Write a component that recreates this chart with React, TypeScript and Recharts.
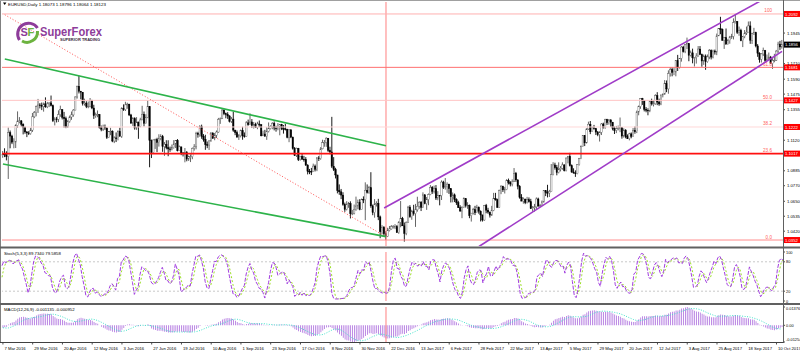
import React from 'react';
import { ComposedChart, Bar, Line, XAxis, YAxis, ReferenceLine } from 'recharts';

// ---------- DATA ----------
// warm-up bars (22 Feb - 4 Mar 2016), used only to prime the indicators
const warmHighs = [1.1120,1.1050,1.1040,1.1045,1.1070,1.0955,1.0915,1.0883,1.0965,1.1043];
const warmLows = [1.1000,1.0990,1.0958,1.0990,1.0915,1.0858,1.0862,1.0829,1.0859,1.0926];
const warmCloses = [1.1026,1.1017,1.1016,1.1023,1.0932,1.0872,1.0868,1.0866,1.0955,1.1002];
const firstOpen = 1.1020;

// daily bars 7 Mar 2016 .. 13 Oct 2017 (one row per week)
const highs = [
1.1037,1.1058,1.1035,1.1218,1.1195, 1.1162,1.1135,1.1243,1.1342,1.1298, 1.1275,1.1250,1.1225,1.1190,1.1190,
1.1216,1.1330,1.1345,1.1387,1.1438, 1.1406,1.1410,1.1410,1.1450,1.1415, 1.1410,1.1464,1.1395,1.1297,1.1300,
1.1350,1.1386,1.1354,1.1338,1.1302, 1.1275,1.1310,1.1341,1.1360,1.1458, 1.1540,1.1616,1.1500,1.1491,1.1440,
1.1420,1.1418,1.1445,1.1431,1.1393, 1.1333,1.1349,1.1322,1.1233,1.1240, 1.1241,1.1218,1.1188,1.1216,1.1196,
1.1150,1.1180,1.1196,1.1216,1.1374, 1.1396,1.1416,1.1409,1.1400,1.1323, 1.1298,1.1297,1.1298,1.1263,1.1293,
1.1385,1.1341,1.1320,1.1428,1.1380, 1.1125,1.1126,1.1132,1.1139,1.1166, 1.1166,1.1161,1.1106,1.1120,1.1120,
1.1071,1.1087,1.1121,1.1120,1.1129, 1.1079,1.1070,1.1029,1.1060,1.1037, 1.1002,1.1011,1.1064,1.1090,1.1185,
1.1185,1.1236,1.1240,1.1167,1.1162, 1.1110,1.1119,1.1183,1.1182,1.1176, 1.1195,1.1292,1.1295,1.1366,1.1358,
1.1333,1.1336,1.1312,1.1299,1.1340, 1.1200,1.1195,1.1168,1.1202,1.1224, 1.1180,1.1267,1.1279,1.1327,1.1283,
1.1260,1.1255,1.1262,1.1272,1.1244, 1.1194,1.1200,1.1220,1.1257,1.1235, 1.1259,1.1265,1.1231,1.1252,1.1245,
1.1246,1.1237,1.1247,1.1208,1.1205, 1.1205,1.1148,1.1068,1.1063,1.1061, 1.1000,1.1022,1.1000,1.0990,1.0935,
1.0899,1.0907,1.0940,1.0933,1.0990, 1.0999,1.1067,1.1124,1.1122,1.1143, 1.1100,1.1070,1.1300,1.0990,1.0908,
1.0820,1.0780,1.0745,1.0720,1.0640, 1.0651,1.0645,1.0650,1.0584,1.0625, 1.0686,1.0663,1.0666,1.0671,1.0688,
1.0796,1.0780,1.0769,1.0874,1.0625, 1.0667,1.0650,1.0669,1.0540,1.0466, 1.0459,1.0420,1.0446,1.0460,1.0467,
1.0467,1.0474,1.0467,1.0497,1.0652, 1.0530,1.0487,1.0495,1.0615,1.0620, 1.0585,1.0623,1.0630,1.0685,1.0651,
1.0652,1.0719,1.0705,1.0683,1.0710, 1.0775,1.0767,1.0771,1.0775,1.0728, 1.0699,1.0811,1.0808,1.0829,1.0796,
1.0785,1.0752,1.0718,1.0710,1.0673, 1.0654,1.0620,1.0612,1.0680,1.0675, 1.0643,1.0625,1.0560,1.0600,1.0615,
1.0623,1.0610,1.0580,1.0547,1.0622, 1.0630,1.0600,1.0571,1.0615,1.0715, 1.0715,1.0670,1.0740,1.0775,1.0770,
1.0761,1.0820,1.0825,1.0805,1.0819, 1.0906,1.0876,1.0818,1.0775,1.0705, 1.0680,1.0670,1.0684,1.0680,1.0669,
1.0614,1.0630,1.0680,1.0678,1.0630, 1.0656,1.0737,1.0737,1.0777,1.0738, 1.0937,1.0951,1.0947,1.0930,1.0950,
1.0921,1.0950,1.0935,1.0987,1.0999, 1.1023,1.0934,1.0904,1.0888,1.0935, 1.0984,1.1080,1.1160,1.1160,1.1212,
1.1263,1.1268,1.1225,1.1238,1.1215, 1.1191,1.1189,1.1252,1.1255,1.1285, 1.1285,1.1283,1.1280,1.1261,1.1225,
1.1230,1.1233,1.1295,1.1218,1.1212, 1.1205,1.1165,1.1177,1.1180,1.1214, 1.1226,1.1348,1.1387,1.1445,1.1446,
1.1423,1.1375,1.1366,1.1424,1.1440, 1.1430,1.1474,1.1490,1.1440,1.1470, 1.1480,1.1583,1.1580,1.1658,1.1683,
1.1680,1.1675,1.1735,1.1777,1.1750, 1.1845,1.1847,1.1860,1.1910,1.1869, 1.1810,1.1825,1.1760,1.1790,1.1845,
1.1845,1.1787,1.1780,1.1780,1.1780, 1.1822,1.1819,1.1817,1.1818,1.1941, 1.1980,1.2070,1.1980,1.1915,1.1980,
1.1900,1.1923,1.1939,1.2058,1.2092, 1.2035,1.1995,1.1978,1.1920,1.1968, 1.1995,1.2034,1.2035,1.1947,1.1985,
1.1955,1.1860,1.1797,1.1790,1.1833, 1.1815,1.1780,1.1795,1.1769,1.1752, 1.1785,1.1815,1.1878,1.1885,1.1892,
];
const lows = [
1.0985,1.0990,1.0965,1.0822,1.1058, 1.1090,1.1058,1.1060,1.1215,1.1250, 1.1225,1.1165,1.1170,1.1144,1.1160,
1.1163,1.1184,1.1290,1.1304,1.1330, 1.1365,1.1352,1.1340,1.1370,1.1367, 1.1375,1.1380,1.1260,1.1234,1.1257,
1.1260,1.1300,1.1280,1.1217,1.1213, 1.1215,1.1255,1.1277,1.1301,1.1351, 1.1440,1.1480,1.1435,1.1387,1.1387,
1.1367,1.1366,1.1373,1.1359,1.1284, 1.1293,1.1297,1.1210,1.1189,1.1191, 1.1200,1.1130,1.1137,1.1159,1.1105,
1.1098,1.1106,1.1119,1.1148,1.1138, 1.1346,1.1345,1.1362,1.1306,1.1246, 1.1230,1.1201,1.1200,1.1131,1.1220,
1.1294,1.1226,1.1250,1.1290,1.0912, 1.0983,1.1028,1.1053,1.1028,1.1071, 1.1120,1.1031,1.1000,1.1050,1.0997,
1.1031,1.1042,1.1055,1.1060,1.1034, 1.1040,1.1005,1.0995,1.0950,1.0958, 1.0961,1.0952,1.0974,1.1040,1.1050,
1.1140,1.1147,1.1131,1.1109,1.1046, 1.1059,1.1045,1.1108,1.1130,1.1120, 1.1137,1.1178,1.1246,1.1283,1.1313,
1.1289,1.1284,1.1257,1.1253,1.1185, 1.1159,1.1138,1.1122,1.1142,1.1124, 1.1140,1.1147,1.1232,1.1238,1.1214,
1.1210,1.1216,1.1205,1.1220,1.1150, 1.1154,1.1150,1.1123,1.1180,1.1203, 1.1205,1.1196,1.1186,1.1197,1.1158,
1.1198,1.1171,1.1195,1.1135,1.1105, 1.1136,1.1048,1.0999,1.0991,1.0960, 1.0963,1.0970,1.0955,1.0922,1.0857,
1.0859,1.0852,1.0877,1.0880,1.0882, 1.0960,1.0970,1.1050,1.1070,1.1069, 1.1030,1.1012,1.0906,1.0883,1.0826,
1.0711,1.0700,1.0667,1.0616,1.0569, 1.0580,1.0600,1.0518,1.0543,1.0549, 1.0577,1.0588,1.0581,1.0600,1.0636,
1.0505,1.0710,1.0708,1.0600,1.0543, 1.0524,1.0610,1.0505,1.0366,1.0395, 1.0385,1.0352,1.0375,1.0418,1.0432,
1.0440,1.0436,1.0406,1.0400,1.0450, 1.0460,1.0340,1.0389,1.0484,1.0523, 1.0508,1.0540,1.0453,1.0570,1.0592,
1.0575,1.0600,1.0627,1.0584,1.0620, 1.0697,1.0707,1.0710,1.0660,1.0658, 1.0619,1.0660,1.0745,1.0740,1.0715,
1.0707,1.0641,1.0642,1.0644,1.0622, 1.0599,1.0570,1.0520,1.0598,1.0602, 1.0592,1.0520,1.0494,1.0548,1.0544,
1.0567,1.0555,1.0495,1.0494,1.0500, 1.0558,1.0554,1.0525,1.0537,1.0574, 1.0655,1.0600,1.0600,1.0705,1.0722,
1.0710,1.0736,1.0780,1.0765,1.0765, 1.0815,1.0800,1.0742,1.0670,1.0650, 1.0632,1.0628,1.0633,1.0640,1.0591,
1.0570,1.0571,1.0590,1.0608,1.0605, 1.0617,1.0640,1.0690,1.0680,1.0683, 1.0821,1.0850,1.0894,1.0850,1.0865,
1.0880,1.0893,1.0880,1.0880,1.0942, 1.0918,1.0870,1.0863,1.0838,1.0858, 1.0925,1.0975,1.1069,1.1075,1.1095,
1.1200,1.1167,1.1185,1.1201,1.1160, 1.1151,1.1110,1.1160,1.1210,1.1208, 1.1238,1.1240,1.1223,1.1196,1.1168,
1.1175,1.1196,1.1182,1.1132,1.1140, 1.1135,1.1130,1.1119,1.1135,1.1150, 1.1170,1.1175,1.1312,1.1362,1.1392,
1.1342,1.1335,1.1312,1.1336,1.1387, 1.1380,1.1393,1.1390,1.1385,1.1390, 1.1450,1.1470,1.1490,1.1478,1.1610,
1.1612,1.1621,1.1612,1.1653,1.1672, 1.1725,1.1795,1.1790,1.1822,1.1728, 1.1765,1.1712,1.1688,1.1710,1.1764,
1.1778,1.1686,1.1700,1.1662,1.1717, 1.1744,1.1742,1.1750,1.1779,1.1775, 1.1922,1.1936,1.1885,1.1823,1.1859,
1.1860,1.1863,1.1900,1.1896,1.2019, 1.1938,1.1924,1.1882,1.1837,1.1905, 1.1930,1.1952,1.1862,1.1861,1.1930,
1.1835,1.1762,1.1717,1.1718,1.1768, 1.1716,1.1730,1.1738,1.1708,1.1669, 1.1720,1.1730,1.1790,1.1815,1.1825,
];
const closes = [
1.1013,1.1008,1.0995,1.1178,1.1152, 1.1105,1.1106,1.1232,1.1268,1.1269, 1.1243,1.1220,1.1184,1.1176,1.1170,
1.1198,1.1300,1.1333,1.1379,1.1392, 1.1390,1.1380,1.1400,1.1377,1.1400, 1.1408,1.1387,1.1270,1.1284,1.1282,
1.1317,1.1357,1.1296,1.1286,1.1222, 1.1264,1.1299,1.1315,1.1352,1.1453, 1.1536,1.1497,1.1490,1.1401,1.1406,
1.1382,1.1382,1.1428,1.1368,1.1309, 1.1315,1.1318,1.1218,1.1205,1.1223, 1.1215,1.1141,1.1188,1.1190,1.1114,
1.1138,1.1132,1.1189,1.1151,1.1366, 1.1355,1.1392,1.1398,1.1315,1.1252, 1.1287,1.1214,1.1260,1.1225,1.1276,
1.1320,1.1250,1.1296,1.1380,1.1118, 1.1027,1.1122,1.1125,1.1103,1.1135, 1.1148,1.1071,1.1089,1.1063,1.1053,
1.1052,1.1062,1.1091,1.1119,1.1039, 1.1069,1.1022,1.1017,1.1025,1.0975, 1.0993,1.0993,1.1057,1.1069,1.1174,
1.1164,1.1224,1.1151,1.1128,1.1086, 1.1083,1.1115,1.1175,1.1136,1.1159, 1.1183,1.1280,1.1285,1.1352,1.1324,
1.1318,1.1307,1.1267,1.1283,1.1198, 1.1179,1.1145,1.1155,1.1196,1.1154, 1.1150,1.1254,1.1240,1.1261,1.1234,
1.1242,1.1218,1.1245,1.1239,1.1154, 1.1168,1.1150,1.1188,1.1209,1.1225, 1.1250,1.1214,1.1212,1.1223,1.1240,
1.1210,1.1208,1.1205,1.1143,1.1200, 1.1144,1.1057,1.1003,1.1058,1.0972, 1.0997,1.0974,1.0973,1.0929,1.0881,
1.0880,1.0878,1.0921,1.0897,1.0984, 1.0979,1.1054,1.1101,1.1104,1.1136, 1.1042,1.1030,1.0920,1.0895,1.0853,
1.0734,1.0723,1.0698,1.0626,1.0588, 1.0627,1.0632,1.0555,1.0558,1.0589, 1.0614,1.0643,1.0587,1.0665,1.0662,
1.0735,1.0719,1.0755,1.0615,1.0563, 1.0630,1.0634,1.0530,1.0416,1.0450, 1.0400,1.0380,1.0425,1.0437,1.0455,
1.0455,1.0456,1.0410,1.0488,1.0517, 1.0461,1.0403,1.0488,1.0605,1.0531, 1.0575,1.0555,1.0584,1.0612,1.0643,
1.0603,1.0700,1.0632,1.0663,1.0702, 1.0757,1.0727,1.0748,1.0675,1.0696, 1.0693,1.0798,1.0759,1.0763,1.0782,
1.0747,1.0685,1.0700,1.0663,1.0640, 1.0601,1.0575,1.0602,1.0670,1.0616, 1.0618,1.0540,1.0559,1.0586,1.0562,
1.0605,1.0574,1.0545,1.0506,1.0617, 1.0582,1.0567,1.0544,1.0580,1.0671, 1.0662,1.0603,1.0733,1.0765,1.0738,
1.0740,1.0811,1.0796,1.0783,1.0800, 1.0866,1.0815,1.0766,1.0680,1.0652, 1.0667,1.0640,1.0662,1.0647,1.0593,
1.0600,1.0607,1.0668,1.0614,1.0616, 1.0645,1.0731,1.0718,1.0714,1.0726, 1.0855,1.0930,1.0908,1.0872,1.0895,
1.0905,1.0930,1.0886,1.0983,1.0997, 1.0924,1.0875,1.0868,1.0862,1.0932, 1.0980,1.1070,1.1157,1.1100,1.1207,
1.1243,1.1185,1.1215,1.1210,1.1183, 1.1163,1.1181,1.1245,1.1217,1.1280, 1.1255,1.1277,1.1259,1.1211,1.1196,
1.1208,1.1215,1.1218,1.1152,1.1198, 1.1147,1.1132,1.1169,1.1150,1.1196, 1.1185,1.1337,1.1379,1.1441,1.1425,
1.1358,1.1351,1.1346,1.1422,1.1400, 1.1400,1.1464,1.1414,1.1399,1.1469, 1.1475,1.1557,1.1515,1.1633,1.1664,
1.1643,1.1645,1.1732,1.1679,1.1750, 1.1837,1.1803,1.1859,1.1864,1.1774, 1.1793,1.1754,1.1756,1.1768,1.1822,
1.1779,1.1730,1.1768,1.1724,1.1761, 1.1811,1.1760,1.1807,1.1799,1.1923, 1.1978,1.1974,1.1890,1.1910,1.1859,
1.1886,1.1915,1.1919,1.2025,1.2035, 1.1951,1.1966,1.1886,1.1918,1.1944, 1.1952,1.2000,1.1890,1.1940,1.1950,
1.1846,1.1790,1.1743,1.1784,1.1811, 1.1735,1.1744,1.1760,1.1710,1.1734, 1.1736,1.1806,1.1860,1.1838,1.1856,
];

const dateLabels = [
  '7 Mar 2016', '29 Mar 2016', '20 Apr 2016', '12 May 2016', '3 Jun 2016', '27 Jun 2016', '19 Jul 2016',
  '10 Aug 2016', '1 Sep 2016', '23 Sep 2016', '17 Oct 2016', '8 Nov 2016', '30 Nov 2016', '22 Dec 2016',
  '13 Jan 2017', '6 Feb 2017', '28 Feb 2017', '22 Mar 2017', '13 Apr 2017', '5 May 2017', '29 May 2017',
  '20 Jun 2017', '12 Jul 2017', '3 Aug 2017', '25 Aug 2017', '18 Sep 2017', '10 Oct 2017',
];
const labelEvery = 16;

const priceTicks = [1.0420, 1.0535, 1.0650, 1.0770, 1.0885, 1.1120, 1.1355,
  1.1475, 1.1590, 1.1710, 1.1945];
const priceDomain = [1.0306, 1.2184];

const fibPrices = [1.2092, 1.1681, 1.1427, 1.1222, 1.1017, 1.0352];
const fibNames = ['100', '61.8', '50.0', '38.2', '23.6', '0.0'];

const markerBar = 206;
const greenUpper = [[1, 1.1746], [206, 1.1078]];
const greenLower = [[0, 1.0937], [206, 1.0378]];
const fibDiagonal = [[1, 1.2086], [205, 1.0385]];
const purpleUpper = [[205, 1.0598], [419, 1.2284]];
const purpleLower = [[256, 1.0302], [419, 1.1804]];

const headerText = 'EURUSD,Daily  1.18073 1.18796 1.18064 1.18123';
const stochText = 'Stoch(5,3,3) 89.7340 79.5858';
const macdText = 'MACD(12,26,9) -0.001135 -0.000952';

// ---------- TABLE ----------
function buildRows() {
  const H = [...warmHighs, ...highs];
  const L = [...warmLows, ...lows];
  const C = [...warmCloses, ...closes];
  const n = C.length;
  const O = C.map((c, k) => (k === 0 ? firstOpen : C[k - 1]));
  const hh = H.map((h, k) => Math.max(h, O[k], C[k]));
  const ll = L.map((l, k) => Math.min(l, O[k], C[k]));
  const num: number[] = [];
  const den: number[] = [];
  for (let k = 0; k < n; k++) {
    const s = Math.max(0, k - 4);
    let lo = Infinity, hi = -Infinity;
    for (let j = s; j <= k; j++) { lo = Math.min(lo, ll[j]); hi = Math.max(hi, hh[j]); }
    num.push(C[k] - lo);
    den.push(hi - lo);
  }
  const K: (number | null)[] = [];
  for (let k = 0; k < n; k++) {
    if (k < 6) { K.push(null); continue; }
    const a = num[k] + num[k - 1] + num[k - 2];
    const b = den[k] + den[k - 1] + den[k - 2];
    K.push(b === 0 ? 100 : (100 * a) / b);
  }
  const D: (number | null)[] = K.map((v, k) => (k < 8 ? null : ((K[k] as number) + (K[k - 1] as number) + (K[k - 2] as number)) / 3));
  let e12 = C[0], e26 = C[0];
  const macd: number[] = [];
  for (let k = 0; k < n; k++) {
    e12 = e12 + (2 / 13) * (C[k] - e12);
    e26 = e26 + (2 / 27) * (C[k] - e26);
    macd.push(e12 - e26);
  }
  const sig = macd.map((v, k) => {
    const s = Math.max(0, k - 8);
    let t = 0;
    for (let j = s; j <= k; j++) t += macd[j];
    return t / (k - s + 1);
  });
  const w = warmCloses.length;
  const rows: any[] = [];
  for (let k = w; k < n; k++) {
    rows.push({ i: k - w, o: O[k], h: hh[k], l: ll[k], c: C[k], k: K[k], d: D[k], macd: macd[k], sig: sig[k] });
  }
  return rows;
}
const rows = buildRows();
const lastClose = rows[rows.length - 1].c;
const macdMax = Math.max(...rows.map((r) => Math.max(r.macd, r.sig)));
const macdMin = Math.min(...rows.map((r) => Math.min(r.macd, r.sig)));
const timeTicks = dateLabels.map((_, k) => k * labelEvery);

// ---------- RENDERERS ----------
const FONT = 'Liberation Sans, Arial, sans-serif';
const AXIS_W = 17;
const MARGIN_L = 2;

const Candle = (props: any) => {
  const { x, y, width, height, payload } = props;
  if (!payload || !isFinite(y) || !isFinite(height)) return null;
  const cx = x + width / 2;
  const { o, h, l, c } = payload;
  const range = h - l || 1e-9;
  const yOf = (v: number) => y + ((h - v) / range) * height;
  const top = yOf(Math.max(o, c));
  const bot = yOf(Math.min(o, c));
  const up = c >= o;
  return (
    <g>
      <line x1={cx} x2={cx} y1={y} y2={y + height} stroke={up ? '#555' : '#000'} strokeWidth={0.9} />
      <rect x={cx - 0.75} y={top} width={1.5} height={Math.max(bot - top, 0.7)}
        fill={up ? '#fff' : '#000'} stroke={up ? '#555' : '#000'} strokeWidth={0.4} />
    </g>
  );
};

const PriceTick = (props: any) => {
  const { x, y, payload } = props;
  return (
    <g>
      <line x1={x} x2={x + 2} y1={y} y2={y} stroke="#000" strokeWidth={0.7} />
      <text x={x + 4} y={y + 1.5} fontSize={4.2} fontFamily={FONT} fill="#000">{payload.value.toFixed(4)}</text>
    </g>
  );
};

const SmallTick = (props: any) => {
  const { x, y, payload, fmt, shift } = props;
  const v = payload.value;
  const dy = shift ? shift(v) : 1.5;
  return (
    <g>
      <line x1={x} x2={x + 2} y1={y} y2={y} stroke="#000" strokeWidth={0.7} />
      <text x={x + 3} y={y + dy} fontSize={3.9} fontFamily={FONT} fill="#000">{fmt(v)}</text>
    </g>
  );
};

const TimeTick = (props: any) => {
  const { x, y, payload } = props;
  const label = dateLabels[Math.round(payload.value / labelEvery)];
  return (
    <g>
      <line x1={x} x2={x} y1={y} y2={y + 2.5} stroke="#000" strokeWidth={0.7} />
      <text x={x + 1.5} y={y + 7.5} fontSize={4.2} fontFamily={FONT} fill="#000">{label}</text>
    </g>
  );
};

const LevelLabel = (props: any) => {
  const { viewBox, name, price, textColor, boxColor } = props;
  if (!viewBox) return null;
  const right = viewBox.x + viewBox.width;
  const y = viewBox.y;
  return (
    <g>
      {name ? (
        <text x={right - 11} y={y - 1.5} textAnchor="end" fontSize={4.6} fontFamily={FONT} fill={textColor}>{name}</text>
      ) : null}
      <rect x={right + 0.5} y={y - 3} width={16.5} height={6} fill={boxColor} />
      <text x={right + 2} y={y + 1.6} fontSize={4.2} fontFamily={FONT} fill="#fff">{price.toFixed(4)}</text>
    </g>
  );
};

const fibStyles = [
  { stroke: '#ffb0b0', w: 1 },
  { stroke: '#ff7070', w: 1 },
  { stroke: '#ffc4c4', w: 1 },
  { stroke: '#ffd8d8', w: 1 },
  { stroke: '#ff1010', w: 1.6 },
  { stroke: '#ff8c8c', w: 1 },
];

const seg = (pts: number[][]) => [{ x: pts[0][0], y: pts[0][1] }, { x: pts[1][0], y: pts[1][1] }] as any;

export default function App() {
  return (
    <div style={{ position: 'absolute', left: 0, top: 0, width: 800, height: 352, background: '#fff', overflow: 'hidden' }}>
      {/* main price window */}
      <div style={{ position: 'absolute', left: 0, top: 0 }}>
        <ComposedChart width={800} height={248} data={rows} margin={{ top: 2, right: 0, bottom: 2, left: MARGIN_L }} barCategoryGap="10%">
          <XAxis dataKey="i" hide />
          <YAxis orientation="right" width={AXIS_W} domain={priceDomain} allowDataOverflow ticks={priceTicks}
            interval={0} tick={<PriceTick />} tickLine={false} axisLine={false} tickSize={0} tickMargin={0} />
          <Bar dataKey={(d: any) => [d.l, d.h]} shape={(p: any) => <Candle {...p} />} isAnimationActive={false} />
          <ReferenceLine x={markerBar} stroke="#ff8080" strokeWidth={1} />
          {fibPrices.map((p, k) => (
            <ReferenceLine key={'f' + k} y={p} stroke={fibStyles[k].stroke} strokeWidth={fibStyles[k].w}
              label={<LevelLabel name={fibNames[k]} price={p} textColor="#ff6060" boxColor="#ff0000" />} />
          ))}
          <ReferenceLine y={lastClose} stroke="none" strokeOpacity={0}
            label={<LevelLabel name="" price={lastClose} textColor="#000" boxColor="#000" />} />
          <ReferenceLine segment={seg(fibDiagonal)} stroke="#ff5050" strokeWidth={1} strokeDasharray="1 2" ifOverflow="hidden" />
          <ReferenceLine segment={seg(greenUpper)} stroke="#2db34a" strokeWidth={1.6} ifOverflow="hidden" />
          <ReferenceLine segment={seg(greenLower)} stroke="#2db34a" strokeWidth={1.6} ifOverflow="hidden" />
          <ReferenceLine segment={seg(purpleUpper)} stroke="#a03cc8" strokeWidth={1.6} ifOverflow="hidden" />
          <ReferenceLine segment={seg(purpleLower)} stroke="#a03cc8" strokeWidth={1.6} ifOverflow="hidden" />
        </ComposedChart>
      </div>

      {/* stochastic window */}
      <div style={{ position: 'absolute', left: 0, top: 248 }}>
        <ComposedChart width={800} height={56} data={rows} margin={{ top: 4, right: 0, bottom: 3, left: MARGIN_L }}>
          <XAxis dataKey="i" hide />
          <YAxis orientation="right" width={AXIS_W} domain={[0, 100]} ticks={[0, 20, 80, 100]} interval={0}
            tick={<SmallTick fmt={(v: number) => String(v)} />} tickLine={false} axisLine={false} tickSize={0} tickMargin={0} />
          <ReferenceLine y={80} stroke="#c8c8c8" strokeDasharray="2 2" />
          <ReferenceLine y={20} stroke="#c8c8c8" strokeDasharray="2 2" />
          <ReferenceLine x={markerBar} stroke="#ff8080" strokeWidth={1} />
          <Line dataKey="d" stroke="#9ee02a" strokeWidth={1} strokeDasharray="2 2" dot={false} isAnimationActive={false} />
          <Line dataKey="k" stroke="#a23ee0" strokeWidth={1} strokeDasharray="4 1.5" dot={false} isAnimationActive={false} />
        </ComposedChart>
      </div>

      {/* MACD window + time axis */}
      <div style={{ position: 'absolute', left: 0, top: 305 }}>
        <ComposedChart width={800} height={47} data={rows} margin={{ top: 2, right: 0, bottom: 0, left: MARGIN_L }} barCategoryGap="30%">
          <XAxis dataKey="i" ticks={timeTicks} interval={0} tick={<TimeTick />} tickLine={false} axisLine={false}
            tickSize={0} tickMargin={0} height={10} />
          <YAxis orientation="right" width={AXIS_W} domain={[macdMin, macdMax]} allowDataOverflow ticks={[macdMin, 0, macdMax]}
            interval={0}
            tick={<SmallTick fmt={(v: number) => (v === 0 ? '0.00' : v.toFixed(5))}
              shift={(v: number) => (v > 0 ? 3.4 : v < 0 ? -0.6 : 1.4)} />}
            tickLine={false} axisLine={false} tickSize={0} tickMargin={0} />
          <ReferenceLine x={markerBar} stroke="#ff8080" strokeWidth={1} />
          <Bar dataKey="macd" fill="#a866dc" isAnimationActive={false} />
          <Line dataKey="sig" stroke="#3fe0c8" strokeWidth={1} strokeDasharray="1 1.5" dot={false} isAnimationActive={false} />
        </ComposedChart>
      </div>

      {/* frame, window captions and logo */}
      <svg width={800} height={352} style={{ position: 'absolute', left: 0, top: 0, pointerEvents: 'none' }}>
        <line x1={0.5} x2={0.5} y1={0} y2={343} stroke="#808080" />
        <line x1={0} x2={800} y1={0.5} y2={0.5} stroke="#a0a0a0" />
        <line x1={783.5} x2={783.5} y1={0} y2={343} stroke="#606060" />
        <rect x={0} y={246.5} width={800} height={2} fill="#606060" />
        <rect x={0} y={303} width={800} height={2} fill="#606060" />
        <line x1={0} x2={783.5} y1={342.5} y2={342.5} stroke="#404040" />

        <path d="M3,2.6 L6.4,2.6 L4.7,5 Z" fill="#000" />
        <text x={8} y={5.6} fontSize={4.4} fontFamily={FONT} fill="#000">{headerText}</text>
        <text x={4} y={254.5} fontSize={4.3} fontFamily={FONT} fill="#000">{stochText}</text>
        <text x={4} y={310.5} fontSize={4.3} fontFamily={FONT} fill="#000">{macdText}</text>

        <g>
          <path d="M19.5,40 A10.5,10.5 0 1 1 37.5,28" fill="none" stroke="#8e3c9a" strokeWidth={3} />
          <path d="M37.5,31 A10.5,10.5 0 0 1 22,41" fill="none" stroke="#6cb33f" strokeWidth={3} />
          <text x={20.5} y={35.5} fontSize={11} fontWeight="bold" fontFamily={FONT} fill="#8e3c9a">S</text>
          <text x={27.5} y={35.5} fontSize={11} fontWeight="bold" fontFamily={FONT} fill="#6cb33f">F</text>
          <text x={40} y={35.5} fontSize={13} fontWeight="bold" fontFamily={FONT} fill="#8e3c9a" textLength={62} lengthAdjust="spacingAndGlyphs">SuperForex</text>
          <text x={60} y={41} fontSize={3.6} fontWeight="bold" fontFamily={FONT} fill="#3a2a40" textLength={40} lengthAdjust="spacingAndGlyphs">SUPERIOR TRADING</text>
        </g>
      </svg>
    </div>
  );
}
